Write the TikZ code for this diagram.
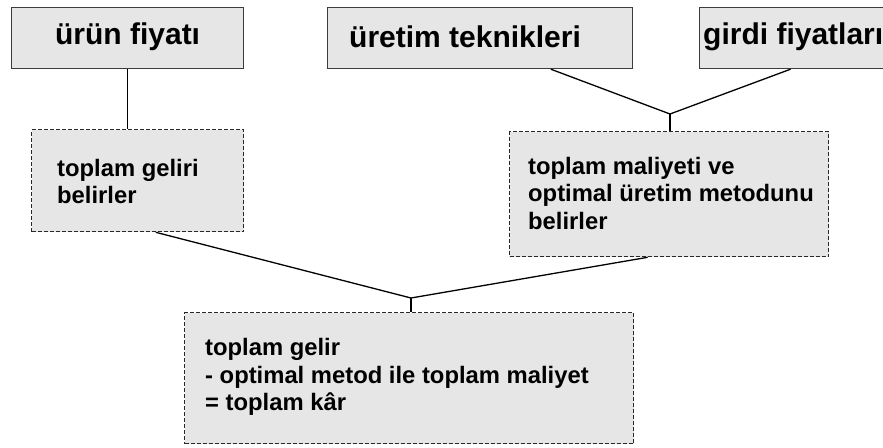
\documentclass[tikz,border=0pt]{standalone}
\usepackage{fontspec}
\setmainfont{Liberation Sans}
\usetikzlibrary{calc}
\definecolor{boxfill}{RGB}{230,230,230}
\definecolor{solidedge}{RGB}{60,60,60}
\definecolor{dashedge}{RGB}{40,40,40}
\tikzset{
  topbox/.style={draw=solidedge, line width=1.2pt, fill=boxfill, rectangle, inner sep=0pt, anchor=north west},
  dashbox/.style={draw=dashedge, line width=1.3pt, fill=boxfill, rectangle, inner sep=0pt, anchor=north west, dash pattern=on 4pt off 2pt},
  toptxt/.style={inner sep=0pt, anchor=west, font=\bfseries\fontsize{30}{34}\selectfont},
  bodytxt/.style={inner sep=0pt, anchor=west, align=left, font=\bfseries\fontsize{23.8}{27.5}\selectfont},
  conn/.style={draw=black, line width=1.3pt}
}
\begin{document}
\begin{tikzpicture}[x=1pt,y=-1pt]
\useasboundingbox (0,0) rectangle (883,447);
\clip (0,0) rectangle (883,447);
\fill[white] (0,0) rectangle (883,447);
% top boxes
\node[topbox, minimum width=232pt, minimum height=61pt] (A) at (11,7) {};
\node[topbox, minimum width=305pt, minimum height=61pt] (B) at (327,7) {};
\node[topbox, minimum width=200pt, minimum height=61pt] (C) at (699,7) {};
% middle boxes
\node[dashbox, minimum width=212pt, minimum height=102pt] (D) at (31,129) {};
\node[dashbox, minimum width=319pt, minimum height=125pt] (E) at (509,131) {};
% bottom box
\node[dashbox, minimum width=449pt, minimum height=131pt] (F) at (184,312) {};
% texts
\node[toptxt, anchor=center] (tA) at ($(A.center)+(0,-1)$) {ürün fiyatı};
\node[toptxt] (tB) at ($(B.west)+(22,-1)$) {üretim teknikleri};
\node[toptxt] (tC) at ($(C.west)+(4,-1)$) {girdi fiyatları};
\node[bodytxt] (tD) at ($(D.west)+(26,1)$) {toplam geliri\\belirler};
\node[bodytxt] (tE) at ($(E.west)+(19,-1)$) {toplam maliyeti ve\\optimal üretim metodunu\\belirler};
\node[bodytxt] (tF) at ($(F.west)+(21,-1)$) {toplam gelir\\- optimal metod ile toplam maliyet\\= toplam kâr};
% junctions
\coordinate (J1) at (670,114);
\coordinate (J2) at (411,298);
\coordinate (Bb) at ($(B.south west)!0.731!(B.south east)$);
\coordinate (Cb) at ($(C.south west)!0.455!(C.south east)$);
\coordinate (Db) at ($(D.south west)!0.585!(D.south east)$);
\coordinate (Eb) at ($(E.south west)!0.433!(E.south east)$);
% connectors
\draw[conn] (A.south) -- (A.south |- D.north);
\draw[conn] (Bb) -- (J1) -- (Cb);
\draw[conn] (J1) -- (J1 |- E.north);
\draw[conn] (Db) -- (J2) -- (Eb);
\draw[conn] (J2) -- (J2 |- F.north);
\end{tikzpicture}
\end{document}
